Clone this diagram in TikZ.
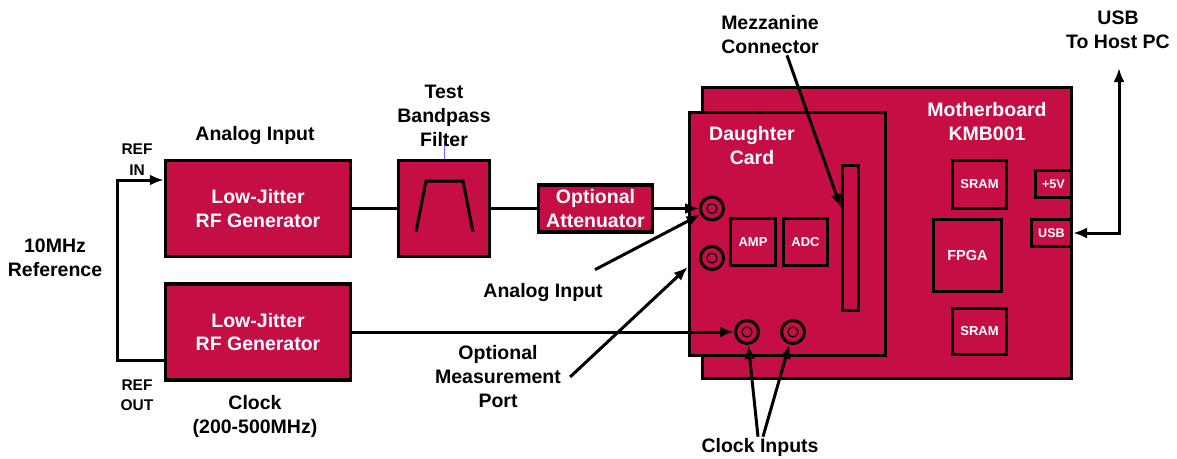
\documentclass[tikz,border=0pt]{standalone}
\usepackage{fontspec}
\setmainfont{Liberation Sans}
\usepackage{xcolor}
\usepackage{tikz}
\usetikzlibrary{arrows.meta,positioning,calc}
\definecolor{board}{RGB}{196,14,68}

\begin{document}
\begin{tikzpicture}[
    x=1pt,y=-1pt,
    block/.style={draw=black, line width=3.5pt, fill=board, text=white, align=center, inner sep=0pt, font=\fontsize{19.5}{23.5}\selectfont\bfseries},
    chip/.style={draw=black, line width=3pt, fill=board, text=white, align=center, inner sep=0pt, font=\fontsize{13}{15}\selectfont\bfseries},
    jack/.style={circle, draw=black, line width=3pt, fill=board, minimum size=23pt, inner sep=0pt},
    lbl/.style={align=center, inner sep=1pt, font=\fontsize{19.5}{24}\selectfont\bfseries},
    small/.style={align=center, inner sep=1pt, font=\fontsize{15.5}{20.5}\selectfont\bfseries},
    sig/.style={draw=black, line width=3pt},
    arr/.style={sig, -{Latex[length=14pt,width=11pt]}}
  ]
    \useasboundingbox (0,0) rectangle (1177,458);

    \node[block, minimum width=185pt, minimum height=96pt] (gen1) at (258,208.5) {Low-Jitter\\RF Generator};
    \node[block, minimum width=185pt, minimum height=96pt] (gen2) at (258,332) {Low-Jitter\\RF Generator};
    \node[block, minimum width=91pt, minimum height=96pt] (filt) at (444,208.5) {};
    \node[block, minimum width=114pt, minimum height=47pt] (att) at (595.5,208.5) {Optional\\Attenuator};
    \draw[sig] (416,232) -- (426,181) -- (463,181) -- (473,232);
    \draw[blue!60, line width=0.8pt] (filt.north) -- ++(0,-17);

    \node[block, minimum width=369pt, minimum height=291pt] (mb) at (887,233) {};
    \node[block, minimum width=196pt, minimum height=243pt] (dc) at (787.5,234) {};
    \node[chip, minimum width=45pt, minimum height=47pt] (amp) at (753,242) {AMP};
    \node[chip, minimum width=44pt, minimum height=47pt] (adc) at (805.5,242) {ADC};
    \node[chip, minimum width=16pt, minimum height=145pt] (mez) at (850.5,238) {};
    \node[chip, minimum width=54pt, minimum height=48pt] (sram1) at (979.5,184.5) {SRAM};
    \node[chip, minimum width=68pt, minimum height=72pt, font=\fontsize{14.5}{16}\selectfont\bfseries] (fpga) at (967.5,255.5) {FPGA};
    \node[chip, minimum width=54pt, minimum height=46pt] (sram2) at (979.5,331.5) {SRAM};
    \node[chip, minimum width=36pt, minimum height=27pt, font=\fontsize{12.6}{14}\selectfont\bfseries] (p5v) at (1053.5,184) {+5V};
    \node[chip, minimum width=40pt, minimum height=27pt, font=\fontsize{12.6}{14}\selectfont\bfseries] (usbp) at (1051.5,233) {USB};

    \node[jack] (ain) at (712,208.5) {};
    \node[jack] (mport) at (712,258) {};
    \node[jack] (clk1) at (747,332) {};
    \node[jack] (clk2) at (793,332) {};
    \foreach \j in {ain,mport,clk1,clk2}
      \draw[line width=1.2pt] (\j.center) circle[radius=5];

    \node[lbl] (ailbl) at (255,135) {Analog Input};
    \node[lbl] (cklbl) at (255,416) {Clock\\(200-500MHz)};
    \node[small] (inlbl) at (137,159.5) {REF\\IN};
    \node[small] (outlbl) at (137,395) {REF\\OUT};
    \node[lbl] (reflbl) at (55,258) {10MHz\\Reference};
    \node[lbl] (filtlbl) at (444,116) {Test\\Bandpass\\Filter};
    \node[lbl] (mezlbl) at (770,35) {Mezzanine\\Connector};
    \node[lbl] (hostlbl) at (1118,30) {USB\\To Host PC};
    \node[lbl, text=white] (dclbl) at (752,146) {Daughter\\Card};
    \node[lbl, text=white] (mblbl) at (987,122) {Motherboard\\KMB001};
    \node[lbl] (ainlbl) at (543,292) {Analog Input};
    \node[lbl] (mplbl) at (498,377) {Optional\\Measurement\\Port};
    \node[lbl] (clklbl) at (760,447) {Clock Inputs};
    \coordinate (host) at (1119,68);

    \draw[arr] ([yshift=-28.5pt]gen2.west) -- ++(-46,0) |- ([yshift=28.5pt]gen1.west);
    \draw[sig] (gen1.east) -- (filt.west);
    \draw[sig] (filt.east) -- (att.west);
    \draw[arr] (att.east) -- (ain);
    \draw[arr] (gen2.east) -- (clk1);
    \draw[sig, {Latex[length=14pt,width=11pt]}-{Latex[length=14pt,width=11pt]}] (usbp.east) -| (host);
    \draw[arr] ([xshift=17pt]mezlbl.south) -- ([yshift=30pt]mez.west);
    \draw[arr] ([xshift=52pt,yshift=12pt]ainlbl.north) -- (ain);
    \draw[arr] ([xshift=8pt]mplbl.east) -- ([yshift=-33pt]dc.west);
    \draw[arr] ([xshift=-2pt]clklbl.north) -- (clk1);
    \draw[arr] ([xshift=3pt]clklbl.north) -- (clk2);
  \end{tikzpicture}
\end{document}
